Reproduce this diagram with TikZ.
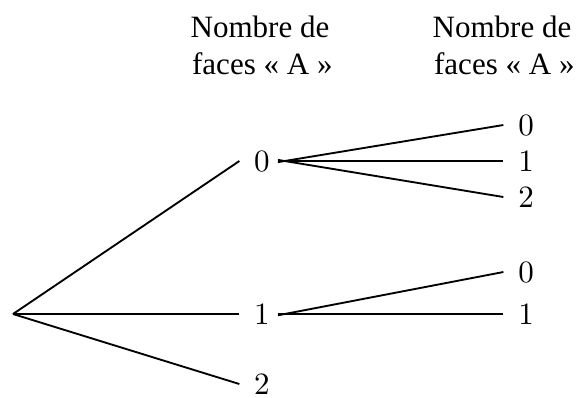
\documentclass[tikz,border=0pt]{standalone}
\usepackage{fontspec}
\newfontfamily\tnr{Liberation Serif}
\begin{document}
\begin{tikzpicture}[x=0.3224pt,y=-0.3224pt,
  lbl/.style={inner xsep=4.6pt,inner ysep=0pt},
  hdr/.style={align=center,font=\tnr,inner sep=0pt},
  ln/.style={line width=0.6pt},
  br/.style={ln,shorten <=-2.2pt}]
\useasboundingbox (0,0) rectangle (577,397);
\coordinate (r) at (13,314);
\node[hdr] (h1) at (260,45) {Nombre de\\\hspace*{1.5pt}faces «~A~»};
\node[hdr] (h2) at (502,45) {Nombre de\\\hspace*{1.5pt}faces «~A~»};
\node[lbl] (a0) at (262,161) {0};
\node[lbl] (a1) at (262,314) {1};
\node[lbl] (a2) at (262,384) {2};
\node[lbl] (b0) at (526,125) {0};
\node[lbl] (b1) at (526,161) {1};
\node[lbl] (b2) at (526,197) {2};
\node[lbl] (c0) at (526,272) {0};
\node[lbl] (c1) at (526,314) {1};
\draw[ln] (r) -- (a0.west);
\draw[ln] (r) -- (a1.west);
\draw[ln] (r) -- (a2.west);
\draw[br] (a0.east) -- (b0.west);
\draw[br] (a0.east) -- (b1.west);
\draw[br] (a0.east) -- (b2.west);
\draw[br] (a1.east) -- (c0.west);
\draw[br] (a1.east) -- (c1.west);
\end{tikzpicture}
\end{document}
